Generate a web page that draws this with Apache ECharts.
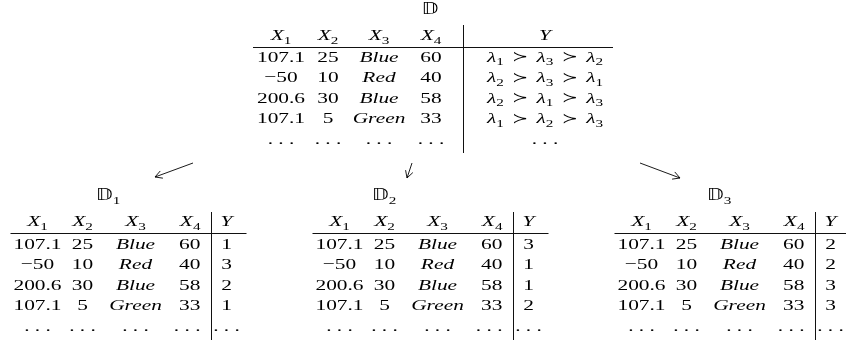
<!DOCTYPE html>
<html>
<head>
<meta charset="utf-8">
<script src="https://cdn.jsdelivr.net/npm/echarts@6/dist/echarts.min.js"></script>
<style>
  html, body { margin: 0; padding: 0; background: #fff; }
  #chart { width: 846px; height: 340px; }
</style>
</head>
<body>
<div id="chart"></div>
<script>
// column headers and the four rows shown of the dataset
const headers = ['X1', 'X2', 'X3', 'X4', 'Y'];
const colX1 = ['107.1', '\u221250', '200.6', '107.1'];
const colX2 = ['25', '10', '30', '5'];
const colX3 = ['Blue', 'Red', 'Blue', 'Green'];
const colX4 = ['60', '40', '58', '33'];
// label ranking of each row in D (index of lambda, best first)
const rankings = [[1, 3, 2], [2, 3, 1], [2, 1, 3], [1, 2, 3]];
// the three derived datasets and their class column
const subsets = [1, 2, 3];
const subsetY = [[1, 3, 2, 1], [3, 1, 1, 2], [2, 2, 3, 3]];

// layout (page pixels, the reference is stretched horizontally)
const FS = 15.5;
const SX = 1.38;
const FONT = "'Liberation Serif', 'DejaVu Serif', serif";
const topT = {
  cols: [281, 328, 379, 431, 545],
  title: [430, 15], head: 41, rows: [62.7, 83.2, 103.7, 124.2], dots: 145,
  rule: [253, 613, 47.5], vline: [463.5, 25, 153]
};
const botVlines = [211.5, 513.5, 815.5];
const botRel = [-174, -129, -76, -11, 15];
const botTitleX = [108, 384, 719];
const bot = { title: 201, head: 227, rows: [250, 270.5, 291, 311.5], dots: 332, rule: 233.5, vTop: 212, vBottom: 340 };
const arrows = [[193, 163, 155, 177], [412, 163, 407, 178], [640, 163, 680, 178]];

const RICH = {
  i: { fontFamily: FONT, fontStyle: 'italic', fontSize: FS, lineHeight: 21, fill: '#000' },
  n: { fontFamily: FONT, fontSize: FS, lineHeight: 21, fill: '#000' },
  s: { fontFamily: FONT, fontSize: 11, lineHeight: 13, verticalAlign: 'bottom', fill: '#000' },
  r: { fontFamily: "'DejaVu Sans', " + FONT, fontSize: 14, lineHeight: 21, padding: [0, 6], fill: '#000' },
  bb: { fontFamily: "'DejaVu Sans', 'DejaVu Serif'", fontSize: 15, lineHeight: 21, fill: '#000' }
};

const sub = (name) => name.length > 1 ? `{i|${name[0]}}{s|${name.slice(1)}}` : `{i|${name}}`;
const num = (v) => `{n|${v}}`;
const ital = (v) => `{i|${v}}`;
const DOTS = '{n|. . .}';

const cells = [];
function cell(x, base, text, align) {
  cells.push({ x, y: base - 0.34 * FS, text, align: align || 'center' });
}

// original dataset D
cell(topT.title[0], topT.title[1], '{bb|\u{1D53B}}');
headers.forEach((h, c) => cell(topT.cols[c], topT.head, sub(h)));
topT.rows.forEach((base, r) => {
  cell(topT.cols[0], base, num(colX1[r]));
  cell(topT.cols[1], base, num(colX2[r]));
  cell(topT.cols[2], base, ital(colX3[r]));
  cell(topT.cols[3], base, num(colX4[r]));
  cell(topT.cols[4], base, rankings[r].map(k => `{i|\u03BB}{s|${k}}`).join('{r|\u227B}'));
});
topT.cols.forEach(x => cell(x, topT.dots, DOTS));

// derived datasets D1..D3
subsets.forEach((k, t) => {
  const v = botVlines[t];
  const xs = botRel.map(d => v + d);
  const al = ['center', 'center', 'center', 'right', 'center'];
  cell(botTitleX[t], bot.title, `{bb|\u{1D53B}}{s|${k}}`);
  headers.forEach((h, c) => cell(xs[c], bot.head, sub(h), al[c]));
  bot.rows.forEach((base, r) => {
    cell(xs[0], base, num(colX1[r]));
    cell(xs[1], base, num(colX2[r]));
    cell(xs[2], base, ital(colX3[r]));
    cell(xs[3], base, num(colX4[r]), 'right');
    cell(xs[4], base, num(subsetY[t][r]));
  });
  xs.forEach((x, c) => cell(x, bot.dots, DOTS, al[c]));
});

// rules and vertical separators
const segs = [
  [topT.rule[0], topT.rule[2], topT.rule[1], topT.rule[2]],
  [topT.vline[0], topT.vline[1], topT.vline[0], topT.vline[2]]
];
botVlines.forEach(v => {
  segs.push([v - 201, bot.rule, v + 35, bot.rule]);
  segs.push([v, bot.vTop, v, bot.vBottom]);
});

const chart = echarts.init(document.getElementById('chart'));
chart.setOption({
  animation: false,
  grid: { left: 0, right: 0, top: 0, bottom: 0 },
  xAxis: { type: 'value', min: 0, max: 846, show: false },
  yAxis: { type: 'value', min: 0, max: 340, inverse: true, show: false },
  series: [
    {
      type: 'custom',
      data: segs,
      renderItem: (params, api) => {
        const a = api.coord([api.value(0), api.value(1)]);
        const b = api.coord([api.value(2), api.value(3)]);
        return {
          type: 'line',
          shape: { x1: a[0], y1: a[1], x2: b[0], y2: b[1] },
          style: { stroke: '#111', lineWidth: 1 }
        };
      }
    },
    {
      type: 'custom',
      data: arrows,
      renderItem: (params, api) => {
        const a = api.coord([api.value(0), api.value(1)]);
        const b = api.coord([api.value(2), api.value(3)]);
        const ang = Math.atan2(b[1] - a[1], b[0] - a[0]);
        const L = 8, w = 0.5;
        const barb = (s) => ({
          type: 'line',
          shape: { x1: b[0], y1: b[1], x2: b[0] - L * Math.cos(ang + s * w), y2: b[1] - L * Math.sin(ang + s * w) },
          style: { stroke: '#000', lineWidth: 0.9 }
        });
        return {
          type: 'group',
          children: [
            { type: 'line', shape: { x1: a[0], y1: a[1], x2: b[0], y2: b[1] }, style: { stroke: '#000', lineWidth: 0.9 } },
            barb(1), barb(-1)
          ]
        };
      }
    },
    {
      type: 'custom',
      data: cells.map(c => [c.x, c.y]),
      renderItem: (params, api) => {
        const c = cells[params.dataIndex];
        const p = api.coord([api.value(0), api.value(1)]);
        return {
          type: 'text',
          x: p[0],
          y: p[1],
          scaleX: SX,
          style: { text: c.text, rich: RICH, align: c.align, verticalAlign: 'middle', fill: '#000' }
        };
      }
    }
  ]
});
</script>
</body>
</html>
